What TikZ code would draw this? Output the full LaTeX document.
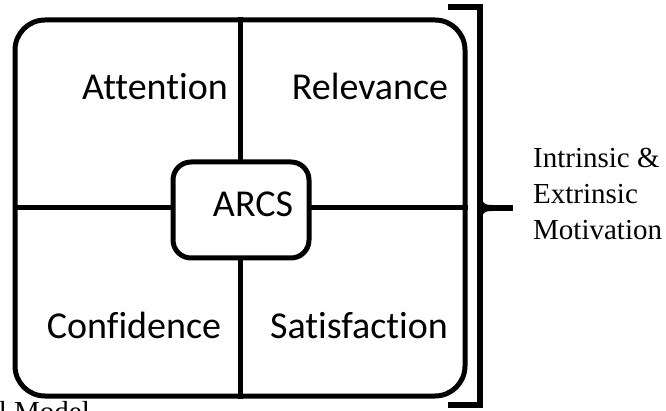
\documentclass[tikz,border=0pt]{standalone}
\usepackage{fontspec}
\setmainfont{Liberation Serif}
\newfontfamily\calib[Ligatures={NoCommon}]{Carlito}
\begin{document}
\begin{tikzpicture}[x=1pt,y=-1pt,
  box/.style={draw=black,line width=5pt},
  quad/.style={font=\calib\fontsize{38}{45}\selectfont,inner sep=0pt,anchor=base},
  side/.style={font=\fontsize{29}{36}\selectfont,align=left,inner sep=0pt},
  divider/.style={line width=5pt}]
\useasboundingbox (0,0) rectangle (666,411);
\node[box,rounded corners=30pt,minimum width=450pt,minimum height=376pt,inner sep=0pt] (frame) at (240,208) {};
\draw[divider] (frame.north) -- (frame.south);
\draw[divider] (frame.west) -- (frame.east);
\node[box,fill=white,rounded corners=18pt,minimum width=136pt,minimum height=96pt,inner sep=0pt] (arcs) at (241,210) {};
\node[quad] (arcst) at (253,217) {ARCS};
\node[quad] (att) at (155,100) {Attention};
\node[quad] (rel) at (370,100) {Relevance};
\node[quad] (con) at (134,338) {Confidence};
\node[quad] (sat) at (359,338) {Satisfaction};
% bracket
\coordinate (bt) at (448,7);
\coordinate (bb) at (448,405);
\draw[line width=6pt,line join=miter] (bt) -- (480,7) -- (480,405) -- (bb);
\coordinate (tk) at (513,208);
\draw[line width=6pt] (480,208) -- (tk);
\fill (482,200) .. controls (484,205) and (488,205) .. (492,205) -- (492,211) .. controls (488,211) and (484,211) .. (482,216) -- cycle;
\node[side,anchor=base west] (mot) at (533,240) {Intrinsic \&\\Extrinsic\\Motivation};
\node[side,anchor=base east] (cap) at (90,421) {Motivational Model};
\end{tikzpicture}
\end{document}
